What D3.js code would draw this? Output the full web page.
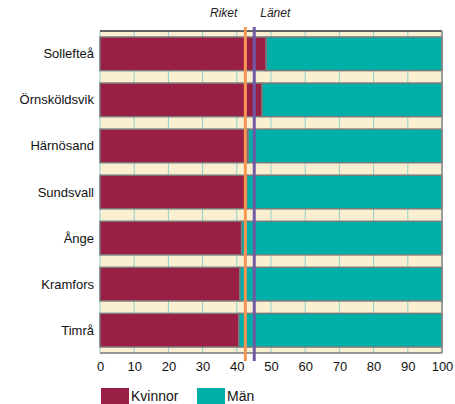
<!DOCTYPE html>
<html>
<head>
<meta charset="utf-8">
<script src="https://cdn.jsdelivr.net/npm/d3@7"></script>
<style>
body { margin: 0; background: #fff; }
text { font-family: "Liberation Sans", Arial, sans-serif; }
</style>
</head>
<body>
<div id="chart"></div>
<script>
// data
var kommuner = ["Sollefteå", "Örnsköldsvik", "Härnösand", "Sundsvall", "Ånge", "Kramfors", "Timrå"];
var kvinnor = [48.6, 47.4, 43.3, 42.9, 41.4, 40.9, 40.6];
var man = kvinnor.map(function(k) { return 100 - k; });
var refNames = ["Riket", "Länet"];
var refValues = [42.5, 45.1];
var xTicks = [0, 10, 20, 30, 40, 50, 60, 70, 80, 90, 100];

var W = 455, H = 404;
var margin = {top: 31, right: 13, bottom: 51, left: 100};
var width = W - margin.left - margin.right,
    height = H - margin.top - margin.bottom;

var svg = d3.select("#chart").append("svg")
    .attr("width", W).attr("height", H)
  .append("g")
    .attr("transform", "translate(" + margin.left + "," + margin.top + ")");

var x = d3.scaleLinear().domain([0, 100]).range([0, width]);
var y = d3.scaleBand().domain(kommuner).range([0, height]).paddingInner(0.27).paddingOuter(0.13);

// background
svg.append("rect")
    .attr("width", width).attr("height", height)
    .attr("fill", "#faf0d1");

// grid
svg.selectAll(".grid")
    .data(xTicks)
  .enter().append("line")
    .attr("x1", function(d) { return x(d); })
    .attr("x2", function(d) { return x(d); })
    .attr("y1", 0).attr("y2", height)
    .attr("stroke", "#8fcfcb").attr("stroke-width", 1);

// bars
var rows = svg.selectAll(".row")
    .data(kommuner)
  .enter().append("g");

rows.append("rect")
    .attr("x", x(0))
    .attr("y", function(d) { return y(d); })
    .attr("width", function(d, i) { return x(kvinnor[i]) - x(0); })
    .attr("height", y.bandwidth())
    .attr("fill", "#991f45")
    .attr("stroke", "#7a7a7a").attr("stroke-width", 1.5);

rows.append("rect")
    .attr("x", function(d, i) { return x(kvinnor[i]); })
    .attr("y", function(d) { return y(d); })
    .attr("width", function(d, i) { return x(man[i]) - x(0); })
    .attr("height", y.bandwidth())
    .attr("fill", "#00afa8")
    .attr("stroke", "#7a7a7a").attr("stroke-width", 1.5);

// frame
svg.append("line").attr("x1", 0).attr("x2", width).attr("y1", 0).attr("y2", 0)
    .attr("stroke", "#333").attr("stroke-width", 1.5);
svg.append("line").attr("x1", 0).attr("x2", width).attr("y1", height).attr("y2", height)
    .attr("stroke", "#777").attr("stroke-width", 1.5);
svg.append("line").attr("x1", width).attr("x2", width).attr("y1", 0).attr("y2", height)
    .attr("stroke", "#888").attr("stroke-width", 1.5);

// reference lines
var refColors = ["#f79552", "#7059a5"];
svg.selectAll(".ref")
    .data(refValues)
  .enter().append("line")
    .attr("x1", function(d) { return x(d); })
    .attr("x2", function(d) { return x(d); })
    .attr("y1", -4).attr("y2", height + 8)
    .attr("stroke", function(d, i) { return refColors[i]; })
    .attr("stroke-width", 3);

svg.selectAll(".reflabel")
    .data(refValues)
  .enter().append("text")
    .attr("x", function(d, i) { return i == 0 ? x(d) - 8 : x(d) + 6; })
    .attr("y", -14)
    .style("text-anchor", function(d, i) { return i == 0 ? "end" : "start"; })
    .style("font-style", "italic")
    .style("font-size", "12px")
    .attr("fill", "#222")
    .text(function(d, i) { return refNames[i]; });

// x axis
var xAxis = svg.append("g")
    .attr("transform", "translate(0," + height + ")")
    .call(d3.axisBottom(x).tickValues(xTicks).tickSize(0).tickPadding(9));
xAxis.select(".domain").remove();
xAxis.selectAll("text").style("font-size", "13px").attr("fill", "#111")
    .attr("font-family", "Liberation Sans, Arial, sans-serif");

// y labels
svg.selectAll(".ylab")
    .data(kommuner)
  .enter().append("text")
    .attr("x", -6)
    .attr("y", function(d) { return y(d) + y.bandwidth() / 2; })
    .attr("dy", "0.35em")
    .style("text-anchor", "end")
    .style("font-size", "13px")
    .attr("fill", "#111")
    .text(function(d) { return d; });

// legend
var legNames = ["Kvinnor", "Män"];
var legColors = ["#991f45", "#00afa8"];
var legX = [1, 97];
var leg = svg.selectAll(".leg")
    .data(legNames)
  .enter().append("g")
    .attr("transform", function(d, i) { return "translate(" + legX[i] + "," + (height + 35) + ")"; });
leg.append("rect")
    .attr("width", 28).attr("height", 17)
    .attr("fill", function(d, i) { return legColors[i]; });
leg.append("text")
    .attr("x", 30).attr("y", 13)
    .style("font-size", "14px")
    .attr("fill", "#111")
    .text(function(d) { return d; });
</script>
</body>
</html>
